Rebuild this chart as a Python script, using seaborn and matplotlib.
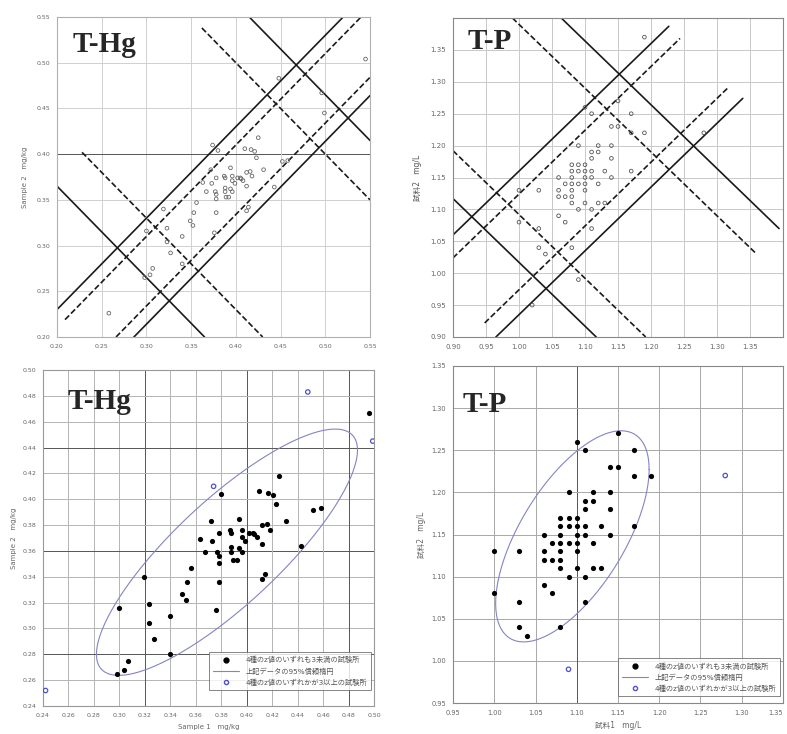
import numpy as np
import pandas as pd
import matplotlib.pyplot as plt
import seaborn as sns
from matplotlib.lines import Line2D

# T-Hg results (sample 1 vs sample 2), labs with all z < 3
hg_x = [0.496, 0.425, 0.410, 0.417, 0.421, 0.423, 0.452, 0.458, 0.431, 0.418, 0.416, 0.412,
        0.394, 0.380, 0.372, 0.378, 0.373, 0.363, 0.367, 0.377, 0.378, 0.378, 0.387, 0.388,
        0.388, 0.388, 0.389, 0.392, 0.394, 0.396, 0.396, 0.396, 0.399, 0.402, 0.405, 0.406,
        0.408, 0.412, 0.414, 0.412, 0.443, 0.356, 0.353, 0.349, 0.352, 0.378, 0.376, 0.340,
        0.319, 0.323, 0.323, 0.327, 0.340, 0.300, 0.307, 0.304, 0.298]
hg_y = [0.467, 0.418, 0.406, 0.405, 0.403, 0.396, 0.392, 0.393, 0.383, 0.376, 0.381, 0.380,
        0.385, 0.404, 0.383, 0.374, 0.368, 0.369, 0.359, 0.359, 0.356, 0.351, 0.376, 0.374,
        0.363, 0.359, 0.353, 0.353, 0.362, 0.376, 0.371, 0.359, 0.368, 0.374, 0.374, 0.373,
        0.371, 0.365, 0.342, 0.338, 0.364, 0.347, 0.336, 0.327, 0.322, 0.336, 0.314, 0.310,
        0.340, 0.319, 0.304, 0.292, 0.280, 0.316, 0.275, 0.268, 0.265]
# labs with any z >= 3
hg_out_x = [0.448, 0.499, 0.374, 0.242]
hg_out_y = [0.483, 0.445, 0.410, 0.252]
# points only visible on the wider Youden plot
hg_extra_x = [0.545, 0.258]
hg_extra_y = [0.504, 0.226]

# T-P results
tp_x = [1.15, 1.10, 1.11, 1.17, 1.14, 1.15, 1.17, 1.19, 1.09, 1.12, 1.14, 1.11, 1.12, 1.11,
        1.14, 1.08, 1.09, 1.10, 1.08, 1.09, 1.10, 1.11, 1.13, 1.17, 1.06, 1.08, 1.10, 1.11,
        1.14, 1.07, 1.08, 1.09, 1.10, 1.12, 1.00, 1.03, 1.06, 1.08, 1.10, 1.06, 1.07, 1.08,
        1.08, 1.10, 1.12, 1.13, 1.09, 1.11, 1.06, 1.00, 1.07, 1.03, 1.11, 1.03, 1.08, 1.04]
tp_y = [1.27, 1.26, 1.25, 1.25, 1.23, 1.23, 1.22, 1.22, 1.20, 1.20, 1.20, 1.19, 1.19, 1.18,
        1.18, 1.17, 1.17, 1.17, 1.16, 1.16, 1.16, 1.16, 1.16, 1.16, 1.15, 1.15, 1.15, 1.15,
        1.15, 1.14, 1.14, 1.14, 1.14, 1.14, 1.13, 1.13, 1.13, 1.13, 1.13, 1.12, 1.12, 1.12,
        1.11, 1.11, 1.11, 1.11, 1.10, 1.10, 1.09, 1.08, 1.08, 1.07, 1.07, 1.04, 1.04, 1.03]
tp_out_x = [1.28, 1.09]
tp_out_y = [1.22, 0.99]
tp_extra_x = [1.19, 1.02]
tp_extra_y = [1.37, 0.95]

# Youden plot limit lines: y = slope * x + intercept, drawn from x0 to x1
hg_slope = [1, 1, 1, 1, -1, -1, -1, -1]
hg_icpt = [0.03, -0.086, 0.01, -0.066, 0.965, 0.565, 0.90, 0.63]
hg_x0 = [0.20, 0.286, 0.209, 0.266, 0.415, 0.20, 0.362, 0.228]
hg_x1 = [0.52, 0.55, 0.54, 0.55, 0.55, 0.365, 0.55, 0.43]
hg_dash = [False, False, True, True, False, False, True, True]

tp_slope = [1, 1, 1, 1, -1, -1, -1, -1]
tp_icpt = [0.16, -0.065, 0.124, -0.026, 2.017, 2.464, 2.39, 2.092]
tp_x0 = [0.90, 0.965, 0.90, 0.948, 0.90, 1.064, 0.99, 0.90]
tp_x1 = [1.227, 1.339, 1.244, 1.318, 1.117, 1.394, 1.358, 1.192]
tp_dash = [False, False, True, True, False, False, True, True]

# 95% confidence ellipses: centre and covariance-like terms
hg_ell_c = (0.3845, 0.359)
hg_ell_s = (0.01051, 0.00908, 0.0081)
tp_ell_c = (1.0947, 1.1478)
tp_ell_s = (0.00865, 0.0157, 0.0074)

leg_labels = ['4種のz値のいずれも3未満の試験所', '上記データの95%信頼楕円',
              '4種のz値のいずれかが3以上の試験所']

sns.set_style('white')
plt.rcParams['font.family'] = ['DejaVu Sans', 'Noto Sans CJK JP']

W, H = 787, 734
fig = plt.figure(figsize=(W / 100, H / 100), dpi=100)


def box(l, t, r, b):
    return [l / W, 1 - b / H, (r - l) / W, (b - t) / H]


ax_tl = fig.add_axes(box(57, 17, 370, 337))
ax_tr = fig.add_axes(box(453, 18, 783, 337))
ax_bl = fig.add_axes(box(43, 370, 374, 706))
ax_br = fig.add_axes(box(453, 366, 783, 703))


def frame(ax, lo, hi, ticks, fs, grid_c, dark_x=(), dark_y=(), spine_c='#999999'):
    ax.set_xlim(lo, hi)
    ax.set_ylim(lo, hi)
    ax.set_xticks(ticks)
    ax.set_yticks(ticks)
    ax.set_xticklabels([f'{t:.2f}' for t in ticks])
    ax.set_yticklabels([f'{t:.2f}' for t in ticks])
    ax.tick_params(labelsize=fs, colors='#666666', length=0, pad=5)
    for t in ticks:
        ax.axvline(t, color='#555555' if round(t, 2) in dark_x else grid_c, lw=0.7, zorder=0)
        ax.axhline(t, color='#555555' if round(t, 2) in dark_y else grid_c, lw=0.7, zorder=0)
    for s in ax.spines.values():
        s.set_color(spine_c)
        s.set_linewidth(0.8)


def limit_lines(ax, slope, icpt, x0, x1, dash):
    for m, c, a, b, d in zip(slope, icpt, x0, x1, dash):
        xs = np.array([a, b])
        ax.plot(xs, m * xs + c, color='#1a1a1a', lw=1.2,
                ls=(0, (3.5, 1.6)) if d else '-', zorder=2)


def ellipse(ax, c, s):
    sxx, syy, sxy = s
    t = np.linspace(0, 2 * np.pi, 300)
    a = np.sqrt(sxx)
    k = sxy / a
    b = np.sqrt(syy - k ** 2)
    df = pd.DataFrame({'x': c[0] + a * np.cos(t), 'y': c[1] + k * np.cos(t) + b * np.sin(t)})
    ax.plot(df['x'], df['y'], color='#8484c4', lw=0.8, zorder=2)


def title(ax, txt, x, y):
    ax.text(x, y, txt, transform=ax.transAxes, family='Liberation Serif',
            weight='bold', fontsize=21, va='top', ha='left', zorder=5)


# --- top left: T-Hg Youden plot
frame(ax_tl, 0.20, 0.55, np.round(np.arange(0.20, 0.551, 0.05), 2), 4.5, '#d0d0d0',
      dark_y=(0.40,), spine_c='#b0b0b0')
limit_lines(ax_tl, hg_slope, hg_icpt, hg_x0, hg_x1, hg_dash)
sns.scatterplot(x=hg_x + hg_out_x[:3] + hg_extra_x, y=hg_y + hg_out_y[:3] + hg_extra_y,
                ax=ax_tl, s=7, facecolor='none', edgecolor='#666666', linewidth=0.6, zorder=3)
ax_tl.set_ylabel('Sample 2   mg/kg', fontsize=5, color='#666666', labelpad=6)
title(ax_tl, 'T-Hg', 0.05, 0.955)

# --- top right: T-P Youden plot
tp_ticks = np.round(np.arange(0.90, 1.351, 0.05), 2)
frame(ax_tr, 0.90, 1.40, tp_ticks, 5, '#c8c8c8', spine_c='#888888')
limit_lines(ax_tr, tp_slope, tp_icpt, tp_x0, tp_x1, tp_dash)
sns.scatterplot(x=tp_x + tp_out_x + tp_extra_x, y=tp_y + tp_out_y + tp_extra_y, ax=ax_tr,
                s=7, facecolor='none', edgecolor='#555555', linewidth=0.6, zorder=3)
ax_tr.set_ylabel('試料2   mg/L', fontsize=5.5, color='#555555', labelpad=6)
title(ax_tr, 'T-P', 0.045, 0.97)

# --- bottom left: T-Hg scatter with ellipse
frame(ax_bl, 0.24, 0.50, np.round(np.arange(0.24, 0.501, 0.02), 2), 4.5, '#b4b4b4',
      dark_x=(0.32, 0.40, 0.48), dark_y=(0.28, 0.36, 0.44), spine_c='#999999')
ellipse(ax_bl, hg_ell_c, hg_ell_s)
sns.scatterplot(x=hg_x, y=hg_y, ax=ax_bl, s=14, color='black', edgecolor='black',
                linewidth=0, zorder=3)
sns.scatterplot(x=hg_out_x, y=hg_out_y, ax=ax_bl, s=10, facecolor='none',
                edgecolor='#5050c8', linewidth=0.9, zorder=3)
ax_bl.set_xlabel('Sample 1   mg/kg', fontsize=5, color='#666666', labelpad=4)
ax_bl.set_ylabel('Sample 2   mg/kg', fontsize=5, color='#666666', labelpad=4)
title(ax_bl, 'T-Hg', 0.075, 0.945)

# --- bottom right: T-P scatter with ellipse
br_ticks = np.round(np.arange(0.95, 1.351, 0.05), 2)
frame(ax_br, 0.95, 1.35, br_ticks, 4.8, '#a8a8a8', dark_x=(1.10,), spine_c='#888888')
ax_br.get_xticklabels()[-1].set_horizontalalignment('right')
ellipse(ax_br, tp_ell_c, tp_ell_s)
sns.scatterplot(x=tp_x, y=tp_y, ax=ax_br, s=14, color='black', edgecolor='black',
                linewidth=0, zorder=3)
sns.scatterplot(x=tp_out_x, y=tp_out_y, ax=ax_br, s=10, facecolor='none',
                edgecolor='#5050c8', linewidth=0.9, zorder=3)
ax_br.set_xlabel('試料1   mg/L', fontsize=5.5, color='#666666', labelpad=4)
ax_br.set_ylabel('試料2   mg/L', fontsize=5.5, color='#666666', labelpad=4)
title(ax_br, 'T-P', 0.03, 0.925)

handles = [Line2D([], [], marker='o', ls='none', color='black', markersize=3.5),
           Line2D([], [], color='#8484c4', lw=0.8),
           Line2D([], [], marker='o', ls='none', markerfacecolor='none',
                  markeredgecolor='#5050c8', markersize=3)]
for ax, anchor in ((ax_bl, (0.992, 0.048)), (ax_br, (0.992, 0.021))):
    leg = ax.legend(handles, leg_labels, loc='lower right', bbox_to_anchor=anchor,
                    fontsize=5.2, frameon=True, fancybox=False, borderpad=0.6,
                    labelspacing=0.5, handlelength=3.6, borderaxespad=0)
    leg.get_frame().set_edgecolor('#666666')
    leg.get_frame().set_linewidth(0.7)
    for t in leg.get_texts():
        t.set_color('#555555')

fig.savefig('out.png', dpi=100)
